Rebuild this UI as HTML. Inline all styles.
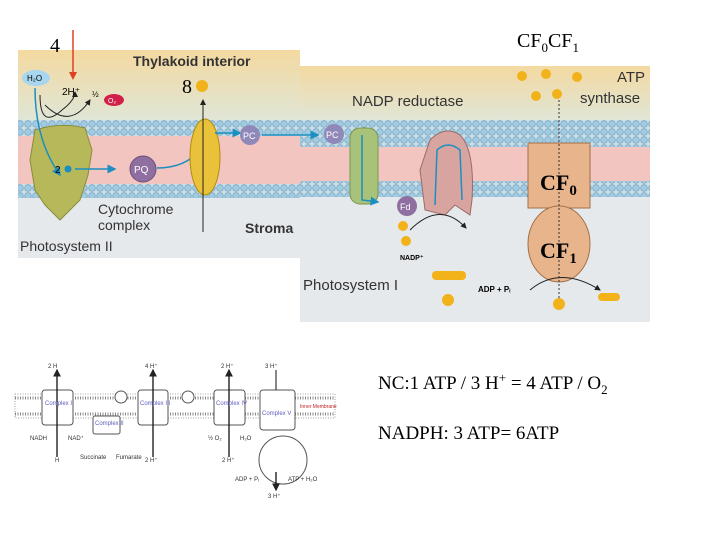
<!DOCTYPE html>
<html><head><meta charset="utf-8"><style>
body{margin:0;background:#fff;width:720px;height:540px;overflow:hidden}
svg{display:block}
.s{font-family:"Liberation Sans","DejaVu Sans",sans-serif}
.t{font-family:"Liberation Serif",serif}
</style></head><body>
<svg width="720" height="540" viewBox="0 0 720 540">
<defs>
<linearGradient id="top" x1="0" y1="0" x2="0" y2="1"><stop offset="0" stop-color="#f4d9a0"/><stop offset="1" stop-color="#dfe6d8"/></linearGradient>
<pattern id="bead" width="8" height="8" patternUnits="userSpaceOnUse"><rect width="8" height="8" fill="#c9dde6"/><circle cx="4" cy="4" r="3.3" fill="#9fcbe3" stroke="#6a9ab5" stroke-width="0.6"/></pattern>
<marker id="ah" markerWidth="6" markerHeight="6" refX="5" refY="3" orient="auto"><path d="M0,0L6,3L0,6z" fill="#222"/></marker>
<marker id="bh" markerWidth="6" markerHeight="6" refX="5" refY="3" orient="auto"><path d="M0,0L6,3L0,6z" fill="#1a8fc0"/></marker>
</defs>
<rect x="18" y="50" width="282" height="208" fill="#e6e9ec"/>
<rect x="18" y="50" width="282" height="72" fill="url(#top)"/>
<rect x="18" y="120" width="282" height="16" fill="url(#bead)"/>
<rect x="18" y="136" width="282" height="48" fill="#f3c5c0"/>
<rect x="18" y="184" width="282" height="14" fill="url(#bead)"/>
<rect x="300" y="66" width="350" height="256" fill="#e6e9ec"/>
<rect x="300" y="66" width="350" height="56" fill="url(#top)"/>
<rect x="300" y="120" width="350" height="27" fill="url(#bead)"/>
<rect x="300" y="147" width="350" height="34" fill="#f3c5c0"/>
<rect x="300" y="181" width="350" height="16" fill="url(#bead)"/>
<text x="133" y="66" class="s" font-size="14" font-weight="bold" fill="#333">Thylakoid interior</text>
<path d="M35,130 Q60,122 85,128 L92,150 L88,175 L80,200 L60,220 L45,205 L35,190 L30,160Z" fill="#b6b85a" stroke="#8a8c3c"/>
<ellipse cx="36" cy="78" rx="14" ry="8" fill="#a9d6ef"/><text x="27" y="81" class="s" font-size="8">H₂O</text>
<path d="M35,88 Q35,140 60,175" stroke="#1a8fc0" stroke-width="1.5" fill="none" marker-end="url(#bh)"/>
<path d="M40,95 Q40,130 62,110 Q75,100 75,92" stroke="#222" fill="none" marker-end="url(#ah)"/>
<path d="M45,105 Q70,130 90,100" stroke="#222" fill="none" marker-end="url(#ah)"/>
<text x="62" y="95" class="s" font-size="10">2H⁺</text><text x="92" y="97" class="s" font-size="8">½</text>
<ellipse cx="114" cy="100" rx="10" ry="6" fill="#d0204a"/><text x="108" y="103" class="s" font-size="7" fill="#fff">O₂</text>
<text x="55" y="173" class="s" font-size="10">2</text><circle cx="68" cy="169" r="3.5" fill="#1a8fc0"/>
<line x1="75" y1="169" x2="115" y2="169" stroke="#1a8fc0" stroke-width="1.5" marker-end="url(#bh)"/>
<circle cx="143" cy="169" r="13" fill="#8f6fa0" stroke="#6b4d7c"/><text x="134" y="173" class="s" font-size="10" fill="#fff">PQ</text>
<path d="M157,168 Q185,168 200,150" stroke="#1a8fc0" stroke-width="1.5" fill="none" marker-end="url(#bh)"/>
<ellipse cx="205" cy="157" rx="15" ry="38" fill="#eac23a" stroke="#b08b10"/>
<line x1="203" y1="232" x2="203" y2="100" stroke="#222" marker-end="url(#ah)"/>
<circle cx="202" cy="86" r="6" fill="#f2b21a"/>
<text x="182" y="93" class="t" font-size="20">8</text>
<line x1="215" y1="133" x2="240" y2="133" stroke="#1a8fc0" stroke-width="1.5" marker-end="url(#bh)"/>
<circle cx="250" cy="135" r="10" fill="#8f88b8"/><text x="243" y="139" class="s" font-size="9" fill="#fff">PC</text>
<line x1="262" y1="135" x2="318" y2="135" stroke="#1a8fc0" stroke-width="1.5" marker-end="url(#bh)"/>
<text x="98" y="214" class="s" font-size="14" fill="#333">Cytochrome</text><text x="98" y="230" class="s" font-size="14" fill="#333">complex</text>
<text x="245" y="233" class="s" font-size="14" font-weight="bold" fill="#333">Stroma</text>
<text x="20" y="251" class="s" font-size="14" fill="#333">Photosystem II</text>
<circle cx="334" cy="134" r="10" fill="#8f88b8"/><text x="326" y="138" class="s" font-size="9" fill="#fff">PC</text>
<rect x="350" y="128" width="28" height="76" rx="10" fill="#a9c27a" stroke="#7c9450"/>
<path d="M362,135 L362,200 L378,202" stroke="#1a8fc0" stroke-width="1.5" fill="none" marker-end="url(#bh)"/>
<text x="352" y="106" class="s" font-size="15" fill="#333">NADP reductase</text>
<path d="M430,140 Q445,125 460,135 Q475,150 472,200 L470,215 L455,205 L445,215 L425,210 L420,170Z" fill="#d8a4a0" stroke="#9c6a66"/>
<path d="M435,205 L437,150 Q448,140 460,150 L462,200" stroke="#1a8fc0" stroke-width="1.5" fill="none"/>
<circle cx="407" cy="206" r="10" fill="#8f6fa0"/><text x="400" y="210" class="s" font-size="9" fill="#fff">Fd</text>
<path d="M410,230 Q440,200 466,228" stroke="#222" fill="none" marker-end="url(#ah)"/>
<circle cx="403" cy="226" r="5" fill="#f2b21a"/><circle cx="406" cy="241" r="5" fill="#f2b21a"/>
<text x="400" y="260" class="s" font-size="7" font-weight="bold">NADP⁺</text>
<rect x="432" y="271" width="34" height="9" rx="4" fill="#f2b21a"/>
<circle cx="448" cy="300" r="6" fill="#f2b21a"/>
<text x="303" y="290" class="s" font-size="15" fill="#333">Photosystem I</text>
<path d="M528,143 L590,143 L590,208 L528,208Z" fill="#e8b48c" stroke="#a27048"/>
<ellipse cx="559" cy="244" rx="31" ry="38" fill="#e8b48c" stroke="#a27048"/>
<line x1="559" y1="100" x2="559" y2="300" stroke="#333" stroke-dasharray="2,2"/>
<path d="M530,290 Q560,265 600,290" stroke="#222" fill="none" marker-end="url(#ah)"/>
<text x="478" y="292" class="s" font-size="8" font-weight="bold">ADP + Pᵢ</text>
<rect x="598" y="293" width="22" height="8" rx="4" fill="#f2b21a"/>
<circle cx="559" cy="304" r="6" fill="#f2b21a"/>
<circle cx="522" cy="76" r="5" fill="#f2b21a"/><circle cx="546" cy="74" r="5" fill="#f2b21a"/><circle cx="577" cy="77" r="5" fill="#f2b21a"/><circle cx="536" cy="96" r="5" fill="#f2b21a"/><circle cx="557" cy="94" r="5" fill="#f2b21a"/>
<text x="617" y="82" class="s" font-size="15" fill="#333">ATP</text><text x="580" y="103" class="s" font-size="15" fill="#333">synthase</text>
<text x="540" y="190" class="t" font-size="22" font-weight="bold">CF<tspan font-size="15" dy="5">0</tspan></text>
<text x="540" y="258" class="t" font-size="22" font-weight="bold">CF<tspan font-size="15" dy="5">1</tspan></text>
<text x="50" y="52" class="t" font-size="20">4</text>
<line x1="73" y1="30" x2="73" y2="76" stroke="#e04020" stroke-width="1.5"/><path d="M69,72L73,80L77,72z" fill="#e04020"/>
<text x="517" y="47" class="t" font-size="20">CF<tspan font-size="13" dy="5">0</tspan><tspan dy="-5">CF</tspan><tspan font-size="13" dy="5">1</tspan></text>
<g stroke="#888" stroke-width="0.8">
<rect x="15" y="394" width="320" height="24" fill="none" stroke-dasharray="1,1.5"/>
<line x1="15" y1="398" x2="335" y2="398" stroke-dasharray="1,1.5" stroke-width="3"/>
<line x1="15" y1="414" x2="335" y2="414" stroke-dasharray="1,1.5" stroke-width="3"/>
</g>
<g fill="#fff" stroke="#555">
<rect x="42" y="390" width="31" height="35" rx="3"/><rect x="93" y="416" width="27" height="18" rx="2"/>
<rect x="138" y="390" width="30" height="35" rx="3"/><rect x="214" y="390" width="31" height="35" rx="3"/>
<rect x="260" y="390" width="35" height="40" rx="3"/><circle cx="283" cy="460" r="24"/>
<circle cx="121" cy="397" r="6"/><circle cx="188" cy="397" r="6"/>
</g>
<g stroke="#111" stroke-width="1.3" marker-end="url(#ah)">
<line x1="57" y1="457" x2="57" y2="370"/><line x1="153" y1="457" x2="153" y2="370"/><line x1="229" y1="457" x2="229" y2="370"/>
<line x1="276" y1="472" x2="276" y2="490"/>
</g>
<line x1="276" y1="370" x2="276" y2="390" stroke="#111"/>
<g class="s" font-size="6" fill="#6060c0"><text x="45" y="405">Complex I</text><text x="95" y="425">Complex II</text><text x="140" y="405">Complex III</text><text x="216" y="405">Complex IV</text><text x="262" y="415">Complex V</text></g>
<g class="s" font-size="6" fill="#333"><text x="48" y="368">2 H</text><text x="145" y="368">4 H⁺</text><text x="221" y="368">2 H⁺</text><text x="265" y="368">3 H⁺</text>
<text x="30" y="440">NADH</text><text x="68" y="440">NAD⁺</text><text x="55" y="462">H</text><text x="80" y="459">Succinate</text><text x="116" y="459">Fumarate</text><text x="145" y="462">2 H⁺</text><text x="208" y="440">½ O₂</text><text x="240" y="440">H₂O</text><text x="222" y="462">2 H⁺</text><text x="235" y="481">ADP + Pᵢ</text><text x="288" y="481">ATP + H₂O</text><text x="268" y="498">3 H⁺</text></g>
<text x="300" y="408" class="s" font-size="5" fill="#c02020">Inner Membrane</text>
<text x="378" y="389" class="t" font-size="19">NC:1 ATP / 3 H<tspan font-size="13" dy="-7">+</tspan><tspan dy="7"> =  4 ATP / O</tspan><tspan font-size="13" dy="5">2</tspan></text>
<text x="378" y="439" class="t" font-size="19">NADPH: 3 ATP= 6ATP</text>
</svg>
</body></html>
